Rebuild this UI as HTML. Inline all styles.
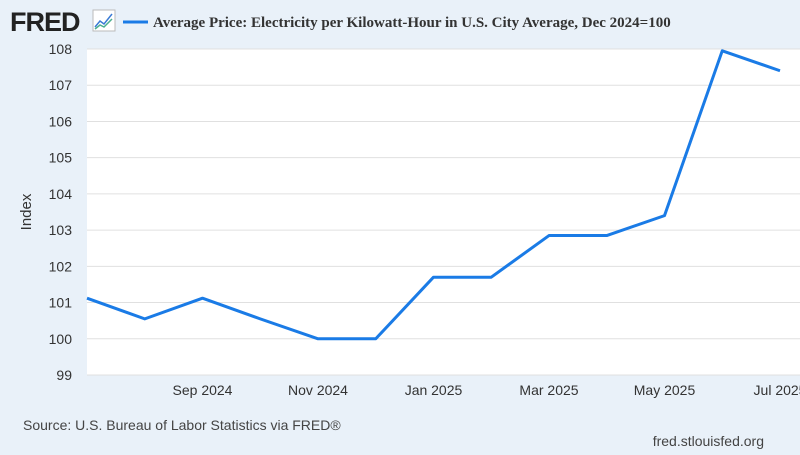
<!DOCTYPE html>
<html><head><meta charset="utf-8"><style>
body{margin:0;width:800px;height:450px;background:#e9f1f9;font-family:"Liberation Sans",sans-serif;overflow:hidden}
</style></head><body>
<svg width="800" height="450" xmlns="http://www.w3.org/2000/svg">
<text x="10" y="31" font-family="Liberation Sans" font-weight="bold" font-size="27" fill="#222" letter-spacing="-1">FRED</text>
<g>
<rect x="93" y="10" width="22" height="21" fill="#fff" stroke="#bbb"/>
<polyline points="95,27 100,21 104,24 112,14" fill="none" stroke="#3a7bd5" stroke-width="1.5"/>
<polyline points="95,29 100,25 104,27 112,19" fill="none" stroke="#4caf8f" stroke-width="1.5"/>
</g>
<line x1="123" y1="22" x2="148" y2="22" stroke="#1a7be6" stroke-width="3"/>
<text x="153" y="27" font-family="Liberation Serif" font-weight="bold" font-size="15" fill="#333">Average Price: Electricity per Kilowatt-Hour in U.S. City Average, Dec 2024=100</text>
<rect x="87" y="49" width="713" height="326" fill="#fff"/>
<g id="grid"></g><g id="yticks"></g><g id="xticks"></g>
<text transform="translate(31,212) rotate(-90)" text-anchor="middle" font-size="15" fill="#333">Index</text>
<path id="line" fill="none" stroke="#1a7be6" stroke-width="3" stroke-linejoin="round"/>
<text x="23" y="430" font-size="14" fill="#444">Source: U.S. Bureau of Labor Statistics via FRED®</text>
<text x="764" y="446" text-anchor="end" font-size="14" fill="#444">fred.stlouisfed.org</text>
</svg>
<script>
const values=[101.12,100.55,101.12,100.55,100.0,100.0,101.7,101.7,102.85,102.85,103.4,107.95,107.4];
const yTicks=[99,100,101,102,103,104,105,106,107,108];
const xTickLabels=["Sep 2024","Nov 2024","Jan 2025","Mar 2025","May 2025","Jul 2025"];
const xTickIdx=[2,4,6,8,10,12];
const ns="http://www.w3.org/2000/svg";
const x=i=>87+i*(780-87)/12;
const y=v=>375-(v-99)*(375-49)/9;
function mk(t,a,p){const e=document.createElementNS(ns,t);for(const k in a)e.setAttribute(k,a[k]);p.appendChild(e);return e;}
const g=document.getElementById('grid'),yt=document.getElementById('yticks'),xt=document.getElementById('xticks');
yTicks.forEach(v=>{
 const l=mk('line',{x1:87,x2:800,y1:y(v),y2:y(v),stroke:'#e0e0e0'},g);
 
 
 const t=mk('text',{x:72,y:y(v)+5,'text-anchor':'end','font-size':14,fill:'#333'},yt);
 t.textContent=v;
 
 
});
xTickIdx.forEach((i,k)=>{
 const t=mk('text',{x:x(i),y:395,'text-anchor':'middle','font-size':14,fill:'#333'},xt);
 t.textContent=xTickLabels[k];
 
 
});
document.getElementById('line').setAttribute('d',values.map((v,i)=>(i?'L':'M')+x(i)+','+y(v)).join(''));
</script>
</body></html>
